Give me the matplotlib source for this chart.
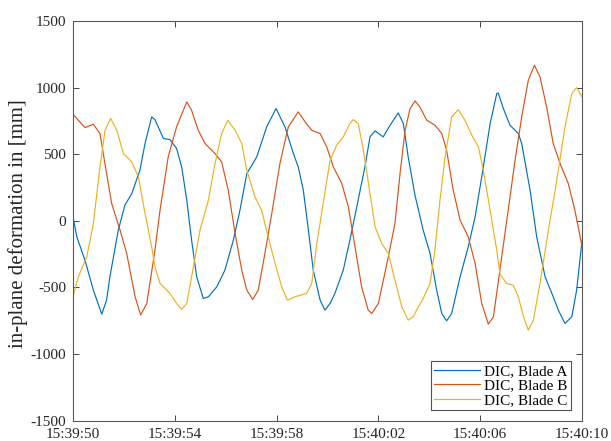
import datetime as dt
import matplotlib
matplotlib.use("Agg")
import matplotlib.pyplot as plt
import matplotlib.dates as mdates

# ---- data (seconds after 15:39:50, deformation in mm) ----
t_a = [0.00, 0.15, 0.47, 0.80, 1.13, 1.32, 1.45, 1.78, 2.04, 2.31, 2.63, 2.83, 3.09, 3.22, 3.35,
       3.55, 3.81, 4.07, 4.27, 4.47, 4.66, 4.86, 5.12, 5.32, 5.65, 5.97, 6.30, 6.56, 6.83, 7.22,
       7.61, 7.98, 8.20, 8.33, 8.66, 8.85, 9.05, 9.25, 9.44, 9.71, 9.90, 10.10, 10.29, 10.62,
       10.88, 11.15, 11.47, 11.67, 11.87, 12.19, 12.46, 12.78, 12.98, 13.17, 13.44, 13.76, 14.03,
       14.29, 14.49, 14.68, 14.88, 15.21, 15.53, 15.80, 16.06, 16.39, 16.65, 16.71, 16.91, 17.17,
       17.50, 17.63, 17.96, 18.22, 18.55, 18.87, 19.07, 19.33, 19.60, 19.79, 20.00]
blade_a = [30, -120, -295, -520, -700, -595, -420, -70, 118, 205, 380, 580, 780, 760, 705,
           618, 610, 543, 405, 155, -145, -420, -582, -570, -495, -370, -145, 80, 355, 480,
           705, 843, 755, 705, 505, 405, 230, -70, -370, -595, -670, -620, -545, -370,
           -145, 105, 405, 630, 675, 630, 718, 810, 730, 480, 190, -70, -245,
           -520, -695, -750, -695, -420, -195, 30, 330, 730, 955, 960, 843, 718,
           655, 580, 230, -120, -420, -570, -670, -770, -720, -520, -150]

t_b = [0.00, 0.21, 0.47, 0.80, 1.06, 1.32, 1.52, 1.85, 2.11, 2.44, 2.66, 2.90, 3.22, 3.42, 3.74,
       4.07, 4.47, 4.66, 4.92, 5.19, 5.58, 5.84, 6.10, 6.37, 6.63, 6.83, 7.06, 7.28, 7.54, 7.81,
       8.13, 8.46, 8.85, 9.12, 9.38, 9.71, 9.97, 10.23, 10.56, 10.82, 11.08, 11.34, 11.60, 11.74,
       12.00, 12.39, 12.65, 12.85, 13.05, 13.24, 13.44, 13.63, 13.90, 14.22, 14.49, 14.68, 14.94,
       15.21, 15.53, 15.80, 16.06, 16.32, 16.52, 16.78, 17.10, 17.37, 17.63, 17.89, 18.13, 18.35,
       18.61, 18.87, 19.14, 19.46, 19.72, 20.00]
blade_b = [800, 755, 700, 725, 655, 355, 130, -70, -245, -570, -707, -620, -220, 80, 480,
           705, 893, 830, 680, 580, 505, 443, 230, -95, -370, -520, -590, -520, -245, 55,
           430, 705, 818, 743, 680, 655, 555, 405, 280, 105, -195, -495, -670, -695,
           -620, -270, -20, 355, 680, 840, 900, 855, 755, 718, 655, 530, 230,
           5, -120, -320, -620, -775, -720, -360, 80, 455, 780, 1055, 1168, 1080,
           855, 580, 430, 280, 80, -190]

t_c = [0.00, 0.21, 0.54, 0.80, 1.06, 1.26, 1.48, 1.72, 1.98, 2.31, 2.57, 2.83, 3.09, 3.22, 3.42,
       3.81, 4.07, 4.27, 4.47, 4.66, 4.99, 5.32, 5.58, 5.84, 6.08, 6.37, 6.63, 6.83, 7.15, 7.41,
       7.67, 7.94, 8.20, 8.42, 8.72, 9.18, 9.38, 9.58, 9.83, 10.10, 10.36, 10.62, 10.88, 11.01,
       11.21, 11.41, 11.67, 11.87, 12.13, 12.39, 12.65, 12.92, 13.17, 13.37, 13.50, 13.76, 14.03,
       14.22, 14.42, 14.62, 14.88, 15.14, 15.40, 15.67, 15.93, 16.12, 16.39, 16.65, 16.78, 17.04,
       17.30, 17.50, 17.70, 17.89, 18.09, 18.35, 18.68, 19.01, 19.33, 19.60, 19.79, 20.00]
blade_c = [-565, -420, -270, -20, 405, 680, 768, 680, 505, 443, 330, 55, -195, -345, -470,
           -545, -620, -665, -620, -420, -70, 155, 430, 655, 755, 680, 580, 380, 180, 80,
           -120, -320, -495, -595, -570, -545, -470, -170, 130, 455, 568, 630, 730, 760,
           730, 530, 205, -45, -170, -245, -445, -645, -745, -720, -670, -583, -470,
           -220, 155, 480, 780, 835, 755, 643, 555, 380, 80, -220, -400, -470,
           -483, -570, -720, -820, -745, -470, -70, 305, 705, 955, 1000, 930]

labels = ["DIC, Blade A", "DIC, Blade B", "DIC, Blade C"]
colors = ["#0072BD", "#D95319", "#EDB120"]
tick_seconds = [0, 4, 8, 12, 16, 20]
y_ticks = [-1500, -1000, -500, 0, 500, 1000, 1500]

base = dt.datetime(2020, 1, 1, 15, 39, 50)
def to_dt(secs):
    return [base + dt.timedelta(seconds=s) for s in secs]

plt.rcParams['font.family'] = ['Liberation Serif', 'DejaVu Serif']
plt.rcParams['axes.unicode_minus'] = False
fig = plt.figure(figsize=(6.11, 4.41), dpi=100)
ax = fig.add_axes([73/611, 1 - 420.7/441, (582 - 73)/611, (420.7 - 21)/441])

for ts, vals, lab, col in zip([t_a, t_b, t_c], [blade_a, blade_b, blade_c], labels, colors):
    ax.plot(to_dt(ts), vals, color=col, lw=0.85, label=lab, solid_joinstyle='round')

ax.set_xlim(base, base + dt.timedelta(seconds=20))
ax.set_ylim(-1500, 1500)
ax.set_xticks(to_dt(tick_seconds))
ax.xaxis.set_major_formatter(mdates.DateFormatter('%H:%M:%S'))
ax.set_yticks(y_ticks)
ax.tick_params(direction='in', length=4, width=0.6, top=True, right=True,
               labelsize=11, colors='#262626', pad=5)
for sp in ax.spines.values():
    sp.set_color('#5a5a5a')
    sp.set_linewidth(0.8)
fig.text(18/611, 1 - 224/441, 'in-plane deformation in [mm]', rotation=90,
         ha='center', va='center', fontsize=15, color='#262626')

leg = ax.legend(loc='lower right', fontsize=11, frameon=True, fancybox=False,
                handlelength=3.0, handletextpad=0.3, borderpad=0.2, labelspacing=0.05,
                bbox_to_anchor=(0.978, 0.027), borderaxespad=0)
leg.get_frame().set_edgecolor('#262626')
leg.get_frame().set_linewidth(0.8)

fig.savefig('out.png', dpi=100)
